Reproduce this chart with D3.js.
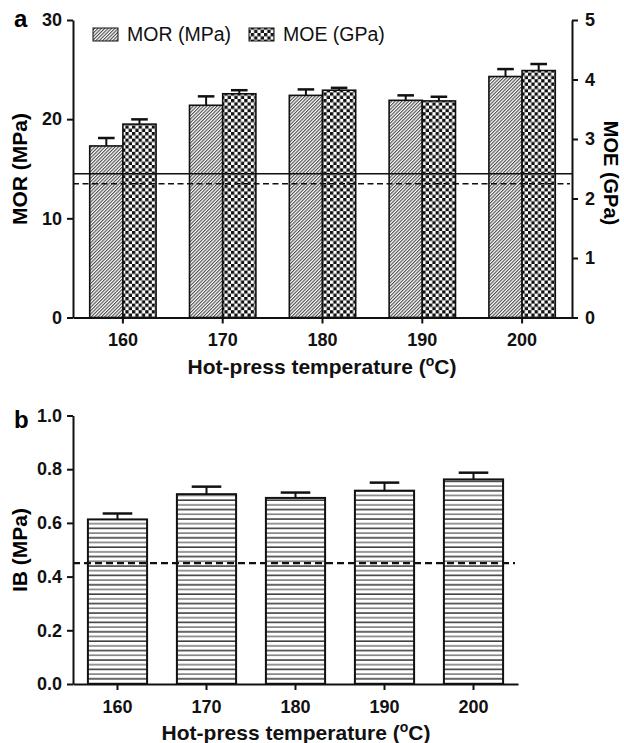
<!DOCTYPE html>
<html>
<head>
<meta charset="utf-8">
<script src="https://cdn.jsdelivr.net/npm/d3@7"></script>
<style>
  body { margin: 0; background: #fff; }
  svg { display: block; font-family: "Liberation Sans", Arial, Helvetica, sans-serif; }
  .axis path, .axis line { stroke: #111; stroke-width: 2; }
  .axis text { font-size: 18px; font-weight: bold; fill: #111; }
</style>
</head>
<body>
<svg id="chart" width="624" height="743"></svg>
<script>
// data
const temps = ["160", "170", "180", "190", "200"]
const morMean = [17.3, 21.4, 22.4, 21.9, 24.3]
const morErr = [0.8, 0.9, 0.6, 0.5, 0.75]
const moeMean = [3.25, 3.76, 3.82, 3.64, 4.15]
const moeErr = [0.08, 0.06, 0.04, 0.07, 0.11]
const ibMean = [0.613, 0.707, 0.693, 0.72, 0.762]
const ibErr = [0.022, 0.028, 0.02, 0.03, 0.025]
const morTicks = [0, 10, 20, 30]
const moeTicks = [0, 1, 2, 3, 4, 5]
const ibTicks = [0, 0.2, 0.4, 0.6, 0.8, 1.0]
const morLimit = 14.5   // solid line, left axis
const moeLimit = 2.25   // dashed line, right axis
const ibLimit = 0.45

const svg = d3.select("#chart")
svg.append("rect").attr("width", 624).attr("height", 743).attr("fill", "#fff")

// patterns
let defs = svg.append("defs")
let hatch = defs.append("pattern").attr("id", "hatch")
    .attr("patternUnits", "userSpaceOnUse").attr("width", 2.4).attr("height", 2.4)
    .attr("patternTransform", "rotate(45)")
hatch.append("rect").attr("width", 2.4).attr("height", 2.4).attr("fill", "#fff")
hatch.append("line").attr("x1", 0.6).attr("y1", 0).attr("x2", 0.6).attr("y2", 2.4)
    .attr("stroke", "#222").attr("stroke-width", 0.9)

let check = defs.append("pattern").attr("id", "check")
    .attr("patternUnits", "userSpaceOnUse").attr("width", 6.6).attr("height", 6.6)
check.append("rect").attr("width", 6.6).attr("height", 6.6).attr("fill", "#fff")
check.append("rect").attr("width", 3.3).attr("height", 3.3).attr("fill", "#111")
check.append("rect").attr("x", 3.3).attr("y", 3.3).attr("width", 3.3).attr("height", 3.3).attr("fill", "#111")

let hlines = defs.append("pattern").attr("id", "hlines")
    .attr("patternUnits", "userSpaceOnUse").attr("width", 10).attr("height", 9.4)
hlines.append("rect").attr("width", 10).attr("height", 9.4).attr("fill", "#fff")
hlines.append("line").attr("x1", 0).attr("x2", 10).attr("y1", 2).attr("y2", 2)
    .attr("stroke", "#111").attr("stroke-width", 1.3)
hlines.append("line").attr("x1", 0).attr("x2", 10).attr("y1", 6.7).attr("y2", 6.7)
    .attr("stroke", "#777").attr("stroke-width", 1.5)

function errorBars(g, data, errs, xCenter, w, y) {
    g.selectAll(null).data(data).enter().append("line")
        .attr("x1", (d, i) => xCenter(i)).attr("x2", (d, i) => xCenter(i))
        .attr("y1", d => y(d)).attr("y2", (d, i) => y(d + errs[i]))
        .attr("stroke", "#111").attr("stroke-width", 2)
    g.selectAll(null).data(data).enter().append("line")
        .attr("x1", (d, i) => xCenter(i) - w / 4).attr("x2", (d, i) => xCenter(i) + w / 4)
        .attr("y1", (d, i) => y(d + errs[i])).attr("y2", (d, i) => y(d + errs[i]))
        .attr("stroke", "#111").attr("stroke-width", 2.5)
}

function xTitle(x, y) {
    let t = svg.append("text").attr("x", x).attr("y", y).attr("text-anchor", "middle")
        .attr("font-size", "21px").attr("font-weight", "bold").attr("fill", "#111")
    t.append("tspan").text("Hot-press temperature (")
    t.append("tspan").attr("dy", -8).attr("font-size", "14px").text("o")
    t.append("tspan").attr("dy", 8).text("C)")
}

// ---------- panel a ----------
let xA = d3.scaleBand().domain(temps).range([73, 572]).paddingInner(0.335).paddingOuter(0.1675)
let xSub = d3.scaleBand().domain(["MOR", "MOE"]).range([0, xA.bandwidth()])
let yA = d3.scaleLinear().domain([0, 30]).range([317.5, 20])
let yR = d3.scaleLinear().domain([0, 5]).range([317.5, 20])

let ga = svg.append("g")
let barW = xSub.bandwidth()

ga.selectAll(".mor").data(morMean).enter().append("rect")
    .attr("x", (d, i) => xA(temps[i]) + xSub("MOR"))
    .attr("y", d => yA(d)).attr("width", barW).attr("height", d => yA(0) - yA(d))
    .attr("fill", "url(#hatch)").attr("stroke", "#111").attr("stroke-width", 1.6)
ga.selectAll(".moe").data(moeMean).enter().append("rect")
    .attr("x", (d, i) => xA(temps[i]) + xSub("MOE"))
    .attr("y", d => yR(d)).attr("width", barW).attr("height", d => yR(0) - yR(d))
    .attr("fill", "url(#check)").attr("stroke", "#111").attr("stroke-width", 1.6)

errorBars(ga, morMean, morErr, i => xA(temps[i]) + xSub("MOR") + barW / 2, barW, yA)
errorBars(ga, moeMean, moeErr, i => xA(temps[i]) + xSub("MOE") + barW / 2, barW, yR)

// standard lines
ga.append("line").attr("x1", 73).attr("x2", 572).attr("y1", yA(morLimit)).attr("y2", yA(morLimit))
    .attr("stroke", "#111").attr("stroke-width", 1.5)
ga.append("line").attr("x1", 73).attr("x2", 570).attr("y1", yR(moeLimit)).attr("y2", yR(moeLimit))
    .attr("stroke", "#111").attr("stroke-width", 1.5).attr("stroke-dasharray", "6,3.5")

ga.append("g").attr("class", "axis").attr("transform", "translate(73,0)")
    .call(d3.axisLeft(yA).tickValues(morTicks).tickSize(6).tickPadding(5).tickSizeOuter(0))
ga.append("g").attr("class", "axis").attr("transform", "translate(572,0)")
    .call(d3.axisRight(yR).tickValues(moeTicks).tickFormat(d3.format("d")).tickSize(6).tickPadding(7).tickSizeOuter(0))
ga.append("g").attr("class", "axis").attr("transform", "translate(0,317.5)")
    .call(d3.axisBottom(xA).tickSize(6).tickPadding(10).tickSizeOuter(0))

// legend
let legend = [{ label: "MOR (MPa)", fill: "url(#hatch)", x: 93 }, { label: "MOE (GPa)", fill: "url(#check)", x: 249 }]
let lg = ga.selectAll(".leg").data(legend).enter().append("g")
lg.append("rect").attr("x", d => d.x).attr("y", 28).attr("width", 25).attr("height", 13)
    .attr("fill", d => d.fill).attr("stroke", "#111").attr("stroke-width", 1)
lg.append("text").attr("x", d => d.x + 34).attr("y", 41).text(d => d.label)
    .attr("font-size", "19.5px").attr("fill", "#111")

// titles
svg.append("text").attr("x", 14).attr("y", 27).text("a")
    .attr("font-size", "24px").attr("font-weight", "bold")
svg.append("text").attr("transform", "translate(27,169) rotate(-90)")
    .attr("text-anchor", "middle").attr("font-size", "21px").attr("font-weight", "bold").text("MOR (MPa)")
svg.append("text").attr("transform", "translate(604,173) rotate(90)")
    .attr("text-anchor", "middle").attr("font-size", "20px").attr("font-weight", "bold").text("MOE (GPa)")
xTitle(322, 373.5)

// ---------- panel b ----------
let xB = d3.scaleBand().domain(temps).range([73, 518]).paddingInner(0.335).paddingOuter(0.1675)
let yB = d3.scaleLinear().domain([0, 1]).range([684, 415.5])
let gb = svg.append("g")
let bw = xB.bandwidth()

gb.selectAll(".ib").data(ibMean).enter().append("rect")
    .attr("x", (d, i) => xB(temps[i]))
    .attr("y", d => yB(d)).attr("width", bw).attr("height", d => yB(0) - yB(d))
    .attr("fill", "url(#hlines)").attr("stroke", "#111").attr("stroke-width", 2)
errorBars(gb, ibMean, ibErr, i => xB(temps[i]) + bw / 2, bw, yB)

gb.append("line").attr("x1", 73).attr("x2", 515).attr("y1", yB(ibLimit)).attr("y2", yB(ibLimit))
    .attr("stroke", "#111").attr("stroke-width", 2.2).attr("stroke-dasharray", "7,4")

gb.append("g").attr("class", "axis").attr("transform", "translate(73,0)")
    .call(d3.axisLeft(yB).tickValues(ibTicks).tickFormat(d3.format(".1f")).tickSize(6).tickPadding(5).tickSizeOuter(0))
gb.append("g").attr("class", "axis").attr("transform", "translate(0,684)")
    .call(d3.axisBottom(xB).tickSize(6).tickPadding(10).tickSizeOuter(0))

svg.append("text").attr("x", 14).attr("y", 428).text("b")
    .attr("font-size", "24px").attr("font-weight", "bold")
svg.append("text").attr("transform", "translate(27,550) rotate(-90)")
    .attr("text-anchor", "middle").attr("font-size", "21px").attr("font-weight", "bold").text("IB (MPa)")
xTitle(296, 740)
</script>
</body>
</html>
